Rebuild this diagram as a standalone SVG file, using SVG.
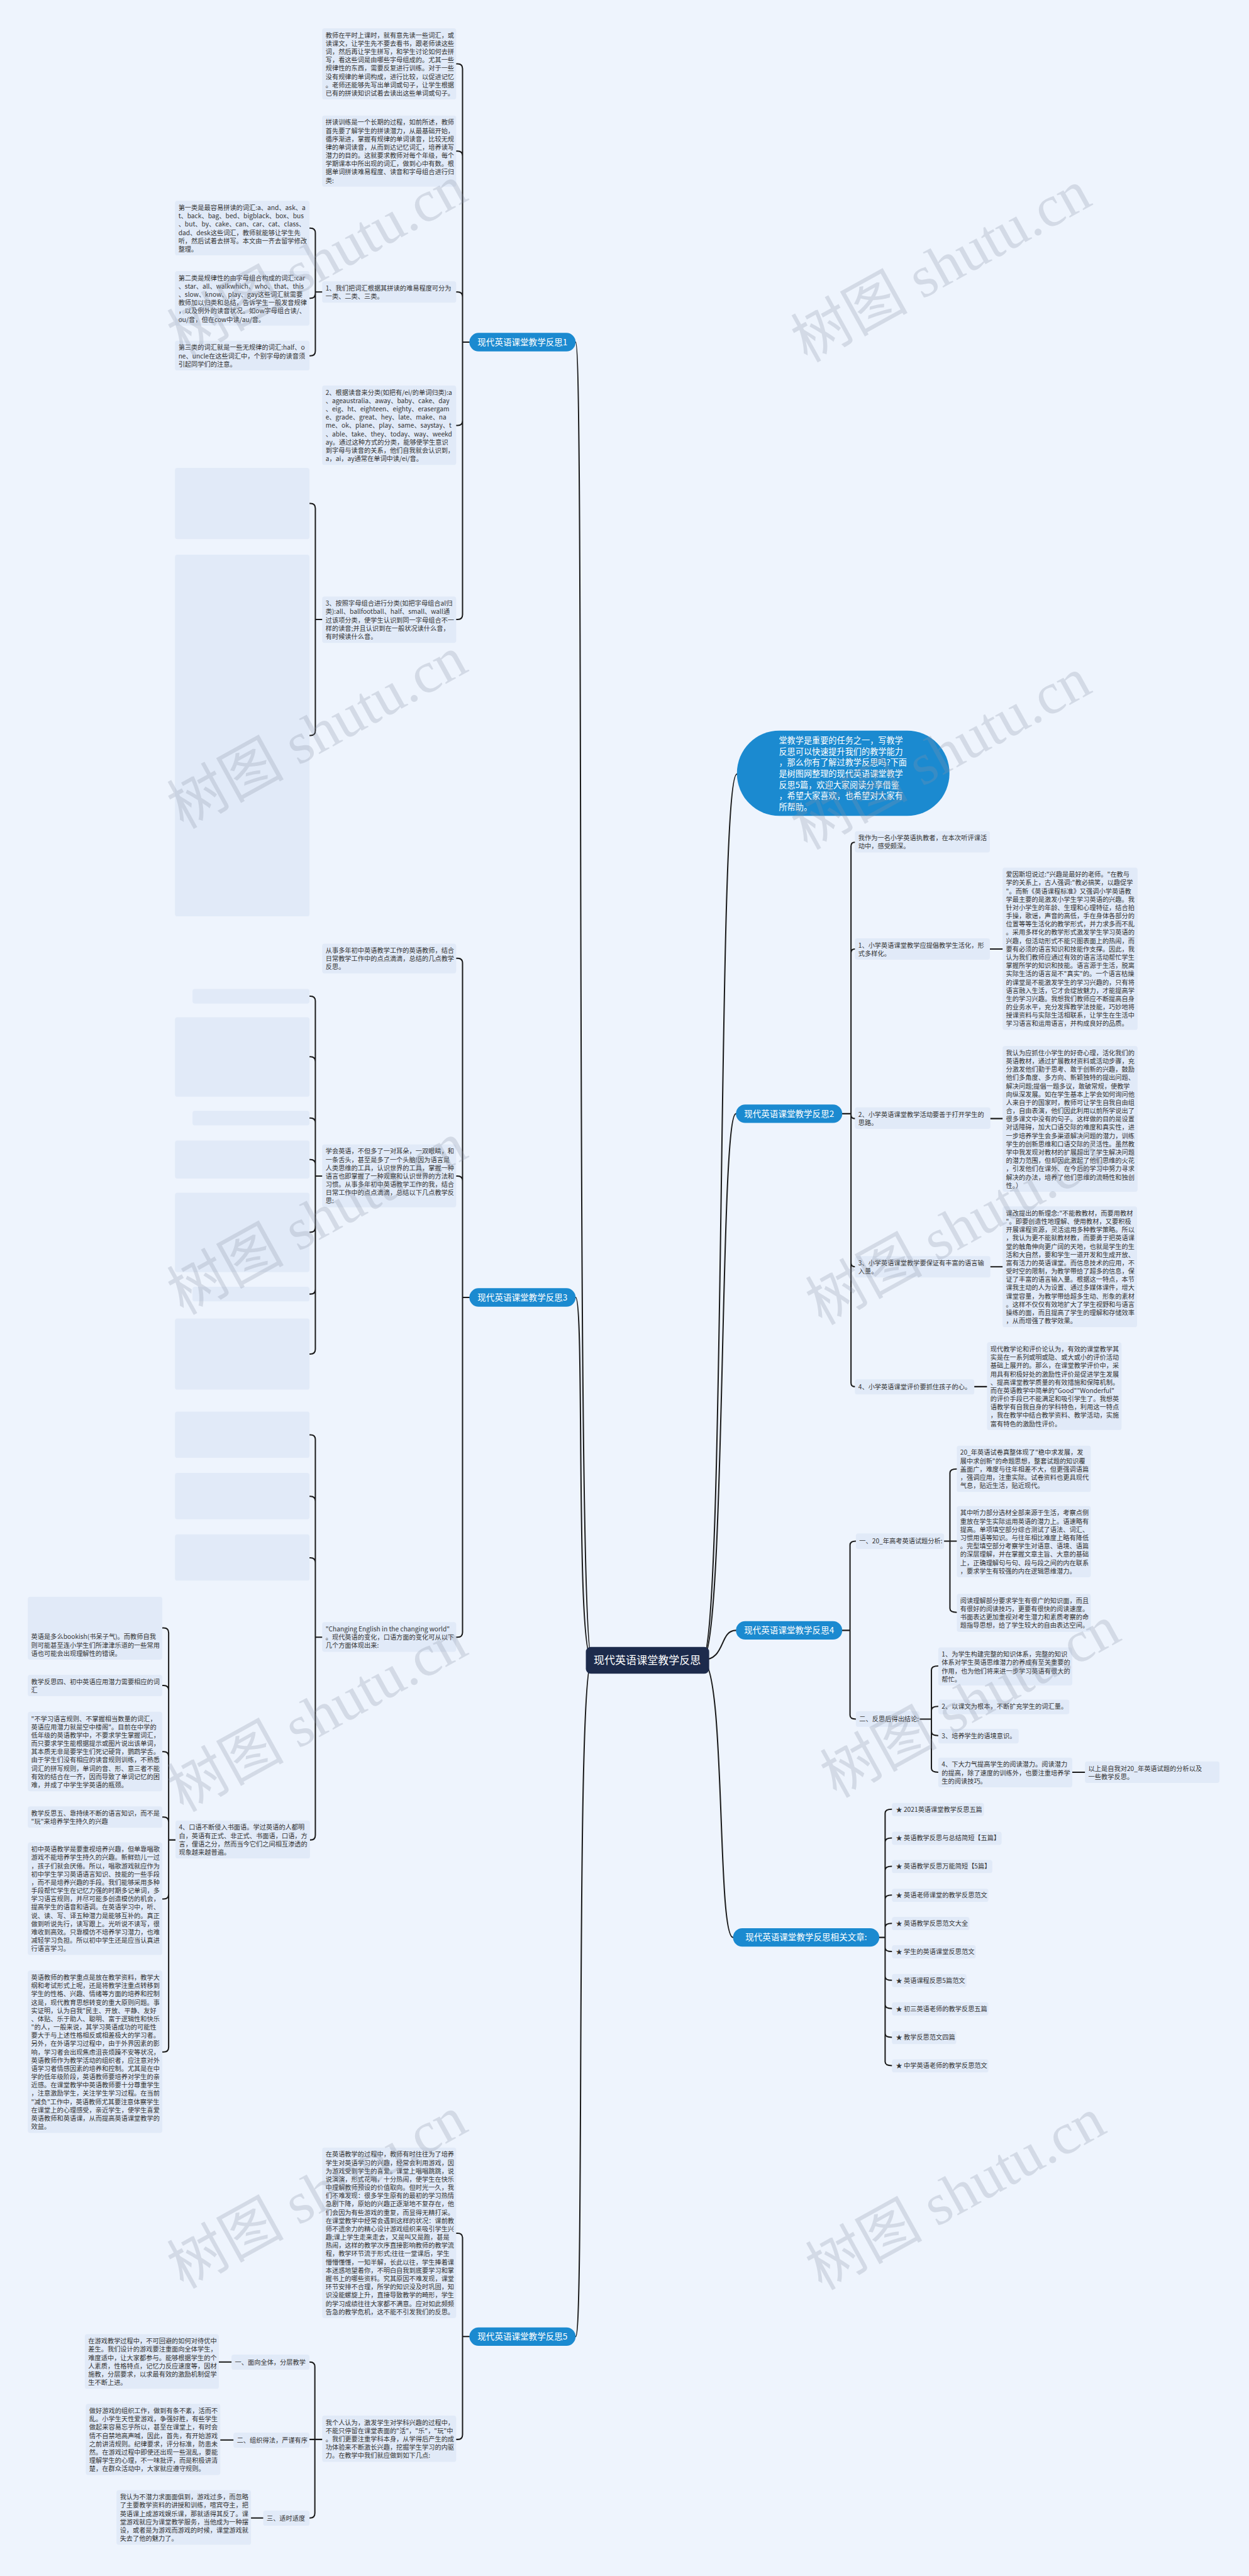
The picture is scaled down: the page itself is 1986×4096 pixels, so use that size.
<svg xmlns="http://www.w3.org/2000/svg" width="1986" height="4096" viewBox="0 0 1986 4096">
<style>
.bg{fill:#eef4fd}
.box{fill:#e1eaf8}
.t{font-family:"Noto Sans CJK SC","Noto Sans",sans-serif;font-size:13.2px;fill:#333}
.bn{fill:#1b8ad0}
.bt{font-family:"Noto Sans CJK SC",sans-serif;font-size:17.5px;fill:#fff;text-anchor:middle}
.it{font-family:"Noto Sans CJK SC",sans-serif;font-size:17px;fill:#fff}
.ct{font-family:"Noto Sans CJK SC",sans-serif;font-size:22px;fill:#fff;text-anchor:middle}
.ln{fill:none;stroke:#1a1a1a;stroke-width:2.6;stroke-linecap:round}
.wm{font-family:"Liberation Serif","Noto Sans CJK SC",serif;font-size:120px;fill:#8a93a6;opacity:0.26;text-anchor:middle}
</style>
<rect class="bg" width="1986" height="4096"/>
<g transform="scale(0.775)">
<g id="connectors">
<path class="ln" d="M1215,3406 C1180,3406 1200,702 1181,702"/>
<path class="ln" d="M1215,3406 C1180,3406 1200,2662 1181,2662"/>
<path class="ln" d="M1215,3406 C1180,3406 1200,4794 1181,4794"/>
<path class="ln" d="M1440,3406 C1490,3406 1470,1588 1512,1588"/>
<path class="ln" d="M1440,3406 C1490,3406 1475,2285 1510,2285"/>
<path class="ln" d="M1440,3406 C1490,3406 1475,3345 1510,3345"/>
<path class="ln" d="M1440,3406 C1490,3406 1470,3975 1504,3975"/>
<path class="ln" d="M963,702 H949 M949,702 V141 Q949,131 939,131 H936 M949,702 V320 Q949,310 939,310 H936 M949,702 V609 Q949,599 939,599 H936 M949,702 V863 Q949,873 939,873 H936 M949,702 V1261 Q949,1271 939,1271 H936"/>
<path class="ln" d="M661,599 H647 M647,599 V478 Q647,468 637,468 H635 M647,599 V602 Q647,612 637,612 H635 M647,599 V720 Q647,730 637,730 H635"/>
<path class="ln" d="M661,1271 H647 M647,1271 V1043 Q647,1033 637,1033 H635 M647,1271 V1499 Q647,1509 637,1509 H635"/>
<path class="ln" d="M963,2662 H949 M949,2662 V1976 Q949,1966 939,1966 H936 M949,2662 V2423 Q949,2413 939,2413 H936 M949,2662 V3349 Q949,3359 939,3359 H936"/>
<path class="ln" d="M661,2413 H647 M647,2413 V2054 Q647,2044 637,2044 H635 M647,2413 V2178 Q647,2168 637,2168 H635 M647,2413 V2304 Q647,2294 637,2294 H635 M647,2413 V2389 Q647,2379 637,2379 H635 M647,2413 V2518 Q647,2528 637,2528 H635 M647,2413 V2645 Q647,2655 637,2655 H635 M647,2413 V2768 Q647,2778 637,2778 H635"/>
<path class="ln" d="M661,3359 H647 M647,3359 V2954 Q647,2944 637,2944 H635 M647,3359 V3080 Q647,3070 637,3070 H635 M647,3359 V3206 Q647,3196 637,3196 H635 M647,3359 V3765 Q647,3775 637,3775 H636"/>
<path class="ln" d="M360,3775 H346 M346,3775 V3350 Q346,3340 336,3340 H333 M346,3775 V3468 Q346,3458 336,3458 H333 M346,3775 V3604 Q346,3594 336,3594 H333 M346,3775 V3738 Q346,3728 336,3728 H333 M346,3775 V3886 Q346,3896 336,3896 H333 M346,3775 V4200 Q346,4210 336,4210 H333"/>
<path class="ln" d="M963,4794 H949 M949,4794 V4592 Q949,4582 939,4582 H936 M949,4794 V4995 Q949,5005 939,5005 H936"/>
<path class="ln" d="M661,5005 H646 M646,5005 V4856 Q646,4846 636,4846 H635 M646,5005 H635 M646,5005 V5156 Q646,5166 636,5166 H635 M475,4846 H449 M479,5006 H452 M540,5166 H515"/>
<path class="ln" d="M1728,2285 H1746 M1746,2285 V1736 Q1746,1728 1754,1728 M1746,2285 V1955 Q1746,1947 1754,1947 M1746,2285 V2287 Q1746,2295 1754,2295 M1746,2285 V2591 Q1746,2599 1754,2599 M1746,2285 V2837 Q1746,2845 1754,2845 M2031,1947 H2057 M2032,2295 H2057 M2032,2599 H2057 M1999,2845 H2025"/>
<path class="ln" d="M1728,3345 H1744 M1744,3345 V3170 Q1744,3162 1756,3162 M1744,3345 V3519 Q1744,3527 1756,3527"/>
<path class="ln" d="M1937,3162 H1949 M1949,3162 V3022 Q1949,3014 1963,3014 M1949,3162 H1963 M1949,3162 V3300 Q1949,3308 1963,3308"/>
<path class="ln" d="M1887,3527 H1911 M1911,3527 V3426 Q1911,3418 1925,3418 M1911,3527 V3509 Q1911,3501 1925,3501 M1911,3527 V3553 Q1911,3561 1925,3561 M1911,3527 V3628 Q1911,3636 1925,3636 M2200,3636 H2226"/>
<path class="ln" d="M1804,3975 H1816 M1816,3975 V3720 Q1816,3712 1830,3712 M1816,3975 V3779 Q1816,3771 1830,3771 M1816,3975 V3837 Q1816,3829 1830,3829 M1816,3975 V3896 Q1816,3888 1830,3888 M1816,3975 V3954 Q1816,3946 1830,3946 M1816,3975 V3996 Q1816,4004 1830,4004 M1816,3975 V4055 Q1816,4063 1830,4063 M1816,3975 V4113 Q1816,4121 1830,4121 M1816,3975 V4172 Q1816,4180 1830,4180 M1816,3975 V4230 Q1816,4238 1830,4238"/>
</g>

<g id="center"><rect x="1202" y="3379" width="253" height="55" rx="10" fill="#1d2b4c"/><text class="ct" x="1328" y="3414">现代英语课堂教学反思</text></g>

<g id="intro"><rect class="bn" x="1512" y="1499" width="436" height="175" rx="87"/><text class="it" x="1598" y="1525"><tspan x="1598">堂教学是重要的任务之一，写教学</tspan><tspan x="1598" dy="22.8">反思可以快速提升我们的教学能力</tspan><tspan x="1598" dy="22.8">，那么你有了解过教学反思吗?下面</tspan><tspan x="1598" dy="22.8">是树图网整理的现代英语课堂教学</tspan><tspan x="1598" dy="22.8">反思5篇，欢迎大家阅读分享借鉴</tspan><tspan x="1598" dy="22.8">，希望大家喜欢，也希望对大家有</tspan><tspan x="1598" dy="22.8">所帮助。</tspan></text></g>

<g id="b1"><rect class="bn" x="963" y="683" width="218" height="38" rx="19"/><text class="bt" x="1072" y="708">现代英语课堂教学反思1</text></g>
<g id="b2"><rect class="bn" x="1510" y="2266" width="218" height="38" rx="19"/><text class="bt" x="1619" y="2291">现代英语课堂教学反思2</text></g>
<g id="b3"><rect class="bn" x="963" y="2643" width="218" height="38" rx="19"/><text class="bt" x="1072" y="2668">现代英语课堂教学反思3</text></g>
<g id="b4"><rect class="bn" x="1510" y="3326" width="218" height="38" rx="19"/><text class="bt" x="1619" y="3351">现代英语课堂教学反思4</text></g>
<g id="b5"><rect class="bn" x="963" y="4775" width="218" height="38" rx="19"/><text class="bt" x="1072" y="4800">现代英语课堂教学反思5</text></g>
<g id="rel"><rect class="bn" x="1504" y="3956" width="300" height="38" rx="19"/><text class="bt" x="1654" y="3981">现代英语课堂教学反思相关文章:</text></g>

<g id="b1a"><rect class="box" x="661" y="58" width="275" height="146" rx="5"/><text class="t" x="668" y="77"><tspan x="668">教师在平时上课时，就有意先读一些词汇，或</tspan><tspan x="668" dy="17">读课文，让学生先不要去看书，跟老师读这些</tspan><tspan x="668" dy="17">词，然后再让学生拼写，和学生讨论如何去拼</tspan><tspan x="668" dy="17">写，看这些词是由哪些字母组成的。尤其一些</tspan><tspan x="668" dy="17">规律性的东西，需要反复进行训练。对于一些</tspan><tspan x="668" dy="17">没有规律的单词构成，进行比较，以促进记忆</tspan><tspan x="668" dy="17">。老师还能够先写出单词或句子，让学生根据</tspan><tspan x="668" dy="17">已有的拼读知识试着去读出这些单词或句子。</tspan></text></g>
<g id="b1b"><rect class="box" x="661" y="237" width="275" height="146" rx="5"/><text class="t" x="668" y="256"><tspan x="668">拼读训练是一个长期的过程，如前所述，教师</tspan><tspan x="668" dy="17">首先要了解学生的拼读潜力，从最基础开始，</tspan><tspan x="668" dy="17">循序渐进，掌握有规律的单词读音，比较无规</tspan><tspan x="668" dy="17">律的单词读音，从而到达记忆词汇，培养读写</tspan><tspan x="668" dy="17">潜力的目的。这就要求教师对每个年级，每个</tspan><tspan x="668" dy="17">学期课本中所出现的词汇，做到心中有数。根</tspan><tspan x="668" dy="17">据单词拼读难易程度、读音和字母组合进行归</tspan><tspan x="668" dy="17">类:</tspan></text></g>
<g id="b1c"><rect class="box" x="661" y="577" width="275" height="44" rx="5"/><text class="t" x="668" y="596"><tspan x="668">1、我们把词汇根据其拼读的难易程度可分为</tspan><tspan x="668" dy="17">一类、二类、三类。</tspan></text></g>
<g id="b1d"><rect class="box" x="661" y="791" width="275" height="163" rx="5"/><text class="t" x="668" y="810"><tspan x="668">2、根据读音来分类(如把有/ei/的单词归类):a</tspan><tspan x="668" dy="17">、ageaustralia、away、baby、cake、day</tspan><tspan x="668" dy="17">、eig、ht、eighteen、eighty、erasergam</tspan><tspan x="668" dy="17">e、grade、great、hey、late、make、na</tspan><tspan x="668" dy="17">me、ok、plane、play、same、saystay、t</tspan><tspan x="668" dy="17">、able、take、they、today、way、weekd</tspan><tspan x="668" dy="17">ay。通过这种方式的分类，能够使学生意识</tspan><tspan x="668" dy="17">到字母与读音的关系，他们自我就会认识到，</tspan><tspan x="668" dy="17">a，ai，ay通常在单词中读/ei/音。</tspan></text></g>
<g id="b1e"><rect class="box" x="661" y="1224" width="275" height="95" rx="5"/><text class="t" x="668" y="1243"><tspan x="668">3、按照字母组合进行分类(如把字母组合al归</tspan><tspan x="668" dy="17">类):all、ballfootball、half、small、wall通</tspan><tspan x="668" dy="17">过该项分类，使学生认识到同一字母组合不一</tspan><tspan x="668" dy="17">样的读音;并且认识到在一般状况读什么音，</tspan><tspan x="668" dy="17">有时候读什么音。</tspan></text></g>
<g id="e1"><rect class="box" x="359" y="960" width="276" height="146" rx="5"/></g>
<g id="e2"><rect class="box" x="359" y="1138" width="276" height="742" rx="5"/></g>
<g id="c1"><rect class="box" x="359" y="412" width="276" height="112" rx="5"/><text class="t" x="366" y="431"><tspan x="366">第一类是最容易拼读的词汇:a、and、ask、a</tspan><tspan x="366" dy="17">t、back、bag、bed、bigblack、box、bus</tspan><tspan x="366" dy="17">、but、by、cake、can、car、cat、class、</tspan><tspan x="366" dy="17">dad、desk这些词汇，教师就能够让学生先</tspan><tspan x="366" dy="17">听，然后试着去拼写。本文由一齐去留学修改</tspan><tspan x="366" dy="17">整理。</tspan></text></g>
<g id="c2"><rect class="box" x="359" y="556" width="276" height="112" rx="5"/><text class="t" x="366" y="575"><tspan x="366">第二类是规律性的由字母组合构成的词汇:car</tspan><tspan x="366" dy="17">、star、all、walkwhich、who、that、this</tspan><tspan x="366" dy="17">、slow、know、play、gay这些词汇就需要</tspan><tspan x="366" dy="17">教师加以归类和总结，告诉学生一般发音规律</tspan><tspan x="366" dy="17">，以及例外的读音状况。如ow字母组合读/、</tspan><tspan x="366" dy="17">ou/音，但在cow中读/au/音。</tspan></text></g>
<g id="c3"><rect class="box" x="359" y="699" width="276" height="61" rx="5"/><text class="t" x="366" y="718"><tspan x="366">第三类的词汇就是一些无规律的词汇:half、o</tspan><tspan x="366" dy="17">ne、uncle在这些词汇中，个别字母的读音须</tspan><tspan x="366" dy="17">引起同学们的注意。</tspan></text></g>

<g id="b3a"><rect class="box" x="661" y="1936" width="275" height="61" rx="5"/><text class="t" x="668" y="1955"><tspan x="668">从事多年初中英语教学工作的英语教师，结合</tspan><tspan x="668" dy="17">日常教学工作中的点点滴滴，总结的几点教学</tspan><tspan x="668" dy="17">反思。</tspan></text></g>
<g id="b3b"><rect class="box" x="661" y="2348" width="275" height="129" rx="5"/><text class="t" x="668" y="2367"><tspan x="668">学会英语，不但多了一对耳朵，一双眼睛，和</tspan><tspan x="668" dy="17">一条舌头，甚至是多了一个头脑!因为语言是</tspan><tspan x="668" dy="17">人类思维的工具，认识世界的工具，掌握一种</tspan><tspan x="668" dy="17">语言也即掌握了一种观察和认识世界的方法和</tspan><tspan x="668" dy="17">习惯。从事多年初中英语教学工作的我，结合</tspan><tspan x="668" dy="17">日常工作中的点点滴滴，总结以下几点教学反</tspan><tspan x="668" dy="17">思:</tspan></text></g>
<g id="s1"><rect class="box" x="395" y="2029" width="240" height="30" rx="5"/></g>
<g id="s2"><rect class="box" x="359" y="2087" width="276" height="163" rx="5"/></g>
<g id="s3"><rect class="box" x="395" y="2279" width="240" height="30" rx="5"/></g>
<g id="s4"><rect class="box" x="359" y="2340" width="276" height="78" rx="5"/></g>
<g id="s5"><rect class="box" x="359" y="2447" width="276" height="163" rx="5"/></g>
<g id="s6"><rect class="box" x="395" y="2640" width="240" height="30" rx="5"/></g>
<g id="s7"><rect class="box" x="359" y="2705" width="276" height="146" rx="5"/></g>
<g id="b3c"><rect class="box" x="661" y="3328" width="275" height="61" rx="5"/><text class="t" x="668" y="3347"><tspan x="668">"Changing English in the changing world"</tspan><tspan x="668" dy="17">。现代英语的变化，口语方面的变化可从以下</tspan><tspan x="668" dy="17">几个方面体现出来:</tspan></text></g>
<g id="w1"><rect class="box" x="359" y="2896" width="276" height="95" rx="5"/></g>
<g id="w2"><rect class="box" x="359" y="3022" width="276" height="95" rx="5"/></g>
<g id="w3"><rect class="box" x="359" y="3148" width="276" height="95" rx="5"/></g>
<g id="k4"><rect class="box" x="360" y="3735" width="276" height="78" rx="5"/><text class="t" x="367" y="3754"><tspan x="367">4、口语不断侵入书面语。学过英语的人都明</tspan><tspan x="367" dy="17">白，英语有正式、非正式、书面语，口语，方</tspan><tspan x="367" dy="17">言，俚语之分，然而当今它们之间相互渗透的</tspan><tspan x="367" dy="17">现象越来越普遍。</tspan></text></g>
<g id="l0"><rect class="box" x="57" y="3276" width="276" height="129" rx="5"/><text class="t" x="64" y="3363"><tspan x="64">英语是多么bookish(书呆子气)。而教师自我</tspan><tspan x="64" dy="17">则可能甚至连小学生们所津津乐道的一些常用</tspan><tspan x="64" dy="17">语也可能会出现理解性的错误。</tspan></text></g>
<g id="l1"><rect class="box" x="57" y="3436" width="276" height="44" rx="5"/><text class="t" x="64" y="3455"><tspan x="64">教学反思四、初中英语应用潜力需要相应的词</tspan><tspan x="64" dy="17">汇</tspan></text></g>
<g id="l2"><rect class="box" x="57" y="3512" width="276" height="163" rx="5"/><text class="t" x="64" y="3531"><tspan x="64">"不学习语言规则、不掌握相当数量的词汇，</tspan><tspan x="64" dy="17">英语应用潜力就是空中楼阁"。目前在中学的</tspan><tspan x="64" dy="17">低年级的英语教学中，不要求学生掌握词汇，</tspan><tspan x="64" dy="17">而只要求学生能根据提示或图片说出该单词，</tspan><tspan x="64" dy="17">其本质无非是要学生们死记硬背，鹦鹉学舌。</tspan><tspan x="64" dy="17">由于学生们没有相应的读音规则训练，不熟悉</tspan><tspan x="64" dy="17">词汇的拼写规则，单词的音、形、意三者不能</tspan><tspan x="64" dy="17">有效的结合在一齐，因而导致了单词记忆的困</tspan><tspan x="64" dy="17">难，并成了中学生学英语的瓶颈。</tspan></text></g>
<g id="l3"><rect class="box" x="57" y="3706" width="276" height="44" rx="5"/><text class="t" x="64" y="3725"><tspan x="64">教学反思五、靠持续不断的语言知识，而不是</tspan><tspan x="64" dy="17">"玩"来培养学生持久的兴趣</tspan></text></g>
<g id="l4"><rect class="box" x="57" y="3780" width="276" height="231" rx="5"/><text class="t" x="64" y="3799"><tspan x="64">初中英语教学是要重视培养兴趣，但单靠唱歌</tspan><tspan x="64" dy="17">游戏不能培养学生持久的兴趣。新鲜劲儿一过</tspan><tspan x="64" dy="17">，孩子们就会厌倦。所以，唱歌游戏就应作为</tspan><tspan x="64" dy="17">初中学生学习英语语言知识、技能的一些手段</tspan><tspan x="64" dy="17">，而不是培养兴趣的手段。我们能够采用多种</tspan><tspan x="64" dy="17">手段帮忙学生在记忆力强的时期多记单词，多</tspan><tspan x="64" dy="17">学习语言规则，并尽可能多创造模仿的机会，</tspan><tspan x="64" dy="17">提高学生的语音和语调。在英语学习中，听、</tspan><tspan x="64" dy="17">说、读、写、译五种潜力是能够互补的。真正</tspan><tspan x="64" dy="17">做到听说先行，读写跟上。光听说不读写，很</tspan><tspan x="64" dy="17">难收到高效。只靠模仿不培养学习潜力，也难</tspan><tspan x="64" dy="17">减轻学习负担。所以初中学生还是应当认真进</tspan><tspan x="64" dy="17">行语言学习。</tspan></text></g>
<g id="l5"><rect class="box" x="57" y="4043" width="276" height="333" rx="5"/><text class="t" x="64" y="4062"><tspan x="64">英语教师的教学重点是放在教学资料，教学大</tspan><tspan x="64" dy="17">纲和考试形式上呢，还是将教学注重点转移到</tspan><tspan x="64" dy="17">学生的性格、兴趣、情绪等方面的培养和控制</tspan><tspan x="64" dy="17">这是，现代教育思想转变的重大原则问题。事</tspan><tspan x="64" dy="17">实证明，认为自我"民主、开放、平静、友好</tspan><tspan x="64" dy="17">、体贴、乐于助人、聪明、富于逻辑性和快乐</tspan><tspan x="64" dy="17">"的人，一般来说，其学习英语成功的可能性</tspan><tspan x="64" dy="17">要大于与上述性格相反或相差极大的学习者。</tspan><tspan x="64" dy="17">另外，在外语学习过程中，由于外界因素的影</tspan><tspan x="64" dy="17">响，学习者会出现焦虑沮丧烦躁不安等状况，</tspan><tspan x="64" dy="17">英语教师作为教学活动的组织者，应注意对外</tspan><tspan x="64" dy="17">语学习者情感因素的培养和控制。尤其是在中</tspan><tspan x="64" dy="17">学的低年级阶段，英语教师要培养对学生的亲</tspan><tspan x="64" dy="17">近感。在课堂教学中英语教师要十分尊重学生</tspan><tspan x="64" dy="17">，注意激励学生，关注学生学习过程。在当前</tspan><tspan x="64" dy="17">"减负"工作中，英语教师尤其要注意体察学生</tspan><tspan x="64" dy="17">在课堂上的心理感受，亲近学生，使学生喜爱</tspan><tspan x="64" dy="17">英语教师和英语课，从而提高英语课堂教学的</tspan><tspan x="64" dy="17">效益。</tspan></text></g>

<g id="b5a"><rect class="box" x="661" y="4406" width="275" height="350" rx="5"/><text class="t" x="668" y="4425"><tspan x="668">在英语教学的过程中，教师有时往往为了培养</tspan><tspan x="668" dy="17">学生对英语学习的兴趣，经常会利用游戏，因</tspan><tspan x="668" dy="17">为游戏受到学生的喜爱。课堂上唱唱跳跳，说</tspan><tspan x="668" dy="17">说演演，形式花哨，十分热闹，使学生在快乐</tspan><tspan x="668" dy="17">中理解教师预设的价值取向。但时光一久，我</tspan><tspan x="668" dy="17">们不难发现：很多学生原有的最初的学习热情</tspan><tspan x="668" dy="17">急剧下降，原始的兴趣正逐渐地不复存在，他</tspan><tspan x="668" dy="17">们会因为有些游戏的重复，而显得无精打采。</tspan><tspan x="668" dy="17">在课堂教学中经常会遇到这样的状况：课前教</tspan><tspan x="668" dy="17">师不遗余力的精心设计游戏组织来吸引学生兴</tspan><tspan x="668" dy="17">趣;课上学生走来走去，又是叫又是跑，甚是</tspan><tspan x="668" dy="17">热闹，这样的教学次序直接影响教师的教学流</tspan><tspan x="668" dy="17">程，教学环节流于形式;往往一堂课后，学生</tspan><tspan x="668" dy="17">懵懵懂懂，一知半解，长此以往，学生捧着课</tspan><tspan x="668" dy="17">本迷惑地望着你，不明白自我到底要学习和掌</tspan><tspan x="668" dy="17">握书上的哪些资料。究其原因不难发现，课堂</tspan><tspan x="668" dy="17">环节安排不合理，所学的知识没及时巩固，知</tspan><tspan x="668" dy="17">识没能螺旋上升，直接导致教学的畸形，学生</tspan><tspan x="668" dy="17">的学习成绩往往大家都不满意。应对如此频频</tspan><tspan x="668" dy="17">告急的教学危机，这不能不引发我们的反思。</tspan></text></g>
<g id="b5b"><rect class="box" x="661" y="4956" width="275" height="95" rx="5"/><text class="t" x="668" y="4975"><tspan x="668">我个人认为，激发学生对学科兴趣的过程中，</tspan><tspan x="668" dy="17">不能只停留在课堂表面的"活"，"乐"，"玩"中</tspan><tspan x="668" dy="17">。我们更要注重学科本身，从学得后产生的成</tspan><tspan x="668" dy="17">功体验来不断激长兴趣，挖掘学生学习的内驱</tspan><tspan x="668" dy="17">力。在教学中我们就应做到如下几点:</tspan></text></g>
<g id="g1"><rect class="box" x="475" y="4831" width="160" height="31" rx="5"/><text class="t" x="482" y="4851">一、面向全体，分层教学</text></g>
<g id="g2"><rect class="box" x="479" y="4991" width="156" height="31" rx="5"/><text class="t" x="486" y="5011">二、组织得法，严谨有序</text></g>
<g id="g3"><rect class="box" x="540" y="5151" width="95" height="31" rx="5"/><text class="t" x="547" y="5171">三、适时适度</text></g>
<g id="h1"><rect class="box" x="174" y="4789" width="275" height="112" rx="5"/><text class="t" x="181" y="4808"><tspan x="181">在游戏教学过程中，不可回避的如何对待优中</tspan><tspan x="181" dy="17">差生。我们设计的游戏要注重面向全体学生，</tspan><tspan x="181" dy="17">难度适中，让大家都参与。能够根据学生的个</tspan><tspan x="181" dy="17">人素质，性格特点，记忆力反应速度等，因材</tspan><tspan x="181" dy="17">施教，分层要求，以求最有效的激励机制促学</tspan><tspan x="181" dy="17">生不断上进。</tspan></text></g>
<g id="h2"><rect class="box" x="176" y="4932" width="276" height="146" rx="5"/><text class="t" x="183" y="4951"><tspan x="183">做好游戏的组织工作，做到有条不紊，活而不</tspan><tspan x="183" dy="17">乱。小学生天性爱游戏，争强好胜，有些学生</tspan><tspan x="183" dy="17">做起来容易忘乎所以，甚至在课堂上，有时会</tspan><tspan x="183" dy="17">情不自禁地高声喊，因此，首先，有开始游戏</tspan><tspan x="183" dy="17">之前讲清规则。纪律要求，评分标准，防患未</tspan><tspan x="183" dy="17">然。在游戏过程中即使还出现一些混乱，要能</tspan><tspan x="183" dy="17">理解学生的心理，不一味批评，而是积极讲清</tspan><tspan x="183" dy="17">楚，在群众活动中，大家就应遵守规则。</tspan></text></g>
<g id="h3"><rect class="box" x="239" y="5109" width="276" height="112" rx="5"/><text class="t" x="246" y="5128"><tspan x="246">我认为不潜力求面面俱到，游戏过多，而忽略</tspan><tspan x="246" dy="17">了主要教学资料的讲授和训练，喧宾夺主，把</tspan><tspan x="246" dy="17">英语课上成游戏娱乐课，那就适得其反了。课</tspan><tspan x="246" dy="17">堂游戏就应为课堂教学服务，当他成为一种摆</tspan><tspan x="246" dy="17">设，或者是为游戏而游戏的时候，课堂游戏就</tspan><tspan x="246" dy="17">失去了他的魅力了。</tspan></text></g>

<g id="r0"><rect class="box" x="1754" y="1705" width="277" height="44" rx="5"/><text class="t" x="1761" y="1724"><tspan x="1761">我作为一名小学英语执教者，在本次听评课活</tspan><tspan x="1761" dy="17">动中，感受颇深。</tspan></text></g>
<g id="r1"><rect class="box" x="1754" y="1925" width="277" height="44" rx="5"/><text class="t" x="1761" y="1944"><tspan x="1761">1、小学英语课堂教学应提倡教学生活化，形</tspan><tspan x="1761" dy="17">式多样化。</tspan></text></g>
<g id="r1c"><rect class="box" x="2057" y="1780" width="277" height="333" rx="5"/><text class="t" x="2064" y="1799"><tspan x="2064">爱因斯坦说过:"兴趣是最好的老师。"在教与</tspan><tspan x="2064" dy="17">学的关系上，古人强调:"教必搞笑，以趣促学</tspan><tspan x="2064" dy="17">"。而新《英语课程标准》又强调小学英语教</tspan><tspan x="2064" dy="17">学最主要的是激发小学生学习英语的兴趣。我</tspan><tspan x="2064" dy="17">针对小学生的年龄、生理和心理特征，结合拍</tspan><tspan x="2064" dy="17">手操，歌谣，声音的高低，手在身体各部分的</tspan><tspan x="2064" dy="17">位置等等生活化的教学形式，并力求多而不乱</tspan><tspan x="2064" dy="17">。采用多样化的教学形式激发学生学习英语的</tspan><tspan x="2064" dy="17">兴趣，但活动形式不能只图表面上的热闹，而</tspan><tspan x="2064" dy="17">要有必须的语言知识和技能作支撑。因此，我</tspan><tspan x="2064" dy="17">认为我们教师应通过有效的语言活动帮忙学生</tspan><tspan x="2064" dy="17">掌握所学的知识和技能。语言源于生活，脱离</tspan><tspan x="2064" dy="17">实际生活的语言是不"真实"的。一个语言枯燥</tspan><tspan x="2064" dy="17">的课堂是不能激发学生的学习兴趣的，只有将</tspan><tspan x="2064" dy="17">语言融入生活，它才会绽放魅力，才能提高学</tspan><tspan x="2064" dy="17">生的学习兴趣。我想我们教师应不断提高自身</tspan><tspan x="2064" dy="17">的业务水平，充分发挥教学法技能，巧妙地将</tspan><tspan x="2064" dy="17">授课资料与实际生活相联系，让学生在生活中</tspan><tspan x="2064" dy="17">学习语言和运用语言，并构成良好的品质。</tspan></text></g>
<g id="r2"><rect class="box" x="1754" y="2272" width="278" height="44" rx="5"/><text class="t" x="1761" y="2291"><tspan x="1761">2、小学英语课堂教学活动要善于打开学生的</tspan><tspan x="1761" dy="17">思路。</tspan></text></g>
<g id="r2c"><rect class="box" x="2057" y="2146" width="277" height="299" rx="5"/><text class="t" x="2064" y="2165"><tspan x="2064">我认为应抓住小学生的好奇心理，活化我们的</tspan><tspan x="2064" dy="17">英语教材，通过扩展教材资料或活动步骤，充</tspan><tspan x="2064" dy="17">分激发他们勤于思考、敢于创新的兴趣，鼓励</tspan><tspan x="2064" dy="17">他们多角度、多方向、新颖独特的提出问题、</tspan><tspan x="2064" dy="17">解决问题;提倡一题多议，敢破常规，使教学</tspan><tspan x="2064" dy="17">向纵深发展。如在学生基本上学会如何询问他</tspan><tspan x="2064" dy="17">人来自于的国家时，教师可让学生自我自由组</tspan><tspan x="2064" dy="17">合，自由表演，他们因此利用以前所学说出了</tspan><tspan x="2064" dy="17">很多课文中没有的句子。这样做的目的是设置</tspan><tspan x="2064" dy="17">对话障碍，加大口语交际的难度和真实性，进</tspan><tspan x="2064" dy="17">一步培养学生会多渠道解决问题的潜力，训练</tspan><tspan x="2064" dy="17">学生的创新思维和口语交际的灵活性。虽然教</tspan><tspan x="2064" dy="17">学中我发现对教材的扩展超出了学生解决问题</tspan><tspan x="2064" dy="17">的潜力范围，但却因此激起了他们思维的火花</tspan><tspan x="2064" dy="17">，引发他们在课外、在今后的学习中努力寻求</tspan><tspan x="2064" dy="17">解决的办法，培养了他们思维的流畅性和独创</tspan><tspan x="2064" dy="17">性。）</tspan></text></g>
<g id="r3"><rect class="box" x="1754" y="2577" width="278" height="44" rx="5"/><text class="t" x="1761" y="2596"><tspan x="1761">3、小学英语课堂教学要保证有丰富的语言输</tspan><tspan x="1761" dy="17">入量。</tspan></text></g>
<g id="r3c"><rect class="box" x="2057" y="2475" width="276" height="248" rx="5"/><text class="t" x="2064" y="2494"><tspan x="2064">课改提出的新理念:"不能教教材，而要用教材</tspan><tspan x="2064" dy="17">"。即要创造性地理解、使用教材，又要积极</tspan><tspan x="2064" dy="17">开展课程资源，灵活运用多种教学策略。所以</tspan><tspan x="2064" dy="17">，我认为更不能就教材教，而要勇于把英语课</tspan><tspan x="2064" dy="17">堂的触角伸向更广阔的天地，也就是学生的生</tspan><tspan x="2064" dy="17">活和大自然，要和学生一道开发和生成开放、</tspan><tspan x="2064" dy="17">富有活力的英语课堂。而信息技术的应用，不</tspan><tspan x="2064" dy="17">受时空的限制，为教学带给了超多的信息，保</tspan><tspan x="2064" dy="17">证了丰富的语言输入量。根据这一特点，本节</tspan><tspan x="2064" dy="17">课我主动的人为设置、通过多媒体课件，增大</tspan><tspan x="2064" dy="17">课堂容量，为教学带给超多生动、形象的素材</tspan><tspan x="2064" dy="17">。这样不仅仅有效地扩大了学生视野和与语言</tspan><tspan x="2064" dy="17">操练的面，而且提高了学生的理解和存储效率</tspan><tspan x="2064" dy="17">，从而增强了教学效果。</tspan></text></g>
<g id="r4"><rect class="box" x="1754" y="2830" width="245" height="31" rx="5"/><text class="t" x="1761" y="2850">4、小学英语课堂评价要抓住孩子的心。</text></g>
<g id="r4c"><rect class="box" x="2025" y="2754" width="276" height="180" rx="5"/><text class="t" x="2032" y="2773"><tspan x="2032">现代教学论和评价论认为，有效的课堂教学其</tspan><tspan x="2032" dy="17">实是在一系列或明或隐、或大或小的评价活动</tspan><tspan x="2032" dy="17">基础上展开的。那么，在课堂教学评价中，采</tspan><tspan x="2032" dy="17">用具有积极好处的激励性评价是促进学生发展</tspan><tspan x="2032" dy="17">、提高课堂教学质量的有效措施和保障机制。</tspan><tspan x="2032" dy="17">而在英语教学中简单的"Good""Wonderful"</tspan><tspan x="2032" dy="17">的评价手段已不能满足和吸引学生了。我想英</tspan><tspan x="2032" dy="17">语教学有自我自身的学科特色，利用这一特点</tspan><tspan x="2032" dy="17">，我在教学中结合教学资料、教学活动，实施</tspan><tspan x="2032" dy="17">富有特色的激励性评价。</tspan></text></g>

<g id="f1"><rect class="box" x="1756" y="3146" width="181" height="32" rx="5"/><text class="t" x="1763" y="3167">一、20_年高考英语试题分析:</text></g>
<g id="f1a"><rect class="box" x="1963" y="2966" width="275" height="95" rx="5"/><text class="t" x="1970" y="2985"><tspan x="1970">20_年英语试卷真整体现了"稳中求发展，发</tspan><tspan x="1970" dy="17">展中求创新"的命题思想，整套试题的知识覆</tspan><tspan x="1970" dy="17">盖面广，难度与往年相差不大，但更强调语篇</tspan><tspan x="1970" dy="17">，强调应用，注重实际。试卷资料也更具现代</tspan><tspan x="1970" dy="17">气息，贴近生活，贴近现代。</tspan></text></g>
<g id="f1b"><rect class="box" x="1963" y="3090" width="275" height="146" rx="5"/><text class="t" x="1970" y="3109"><tspan x="1970">其中听力部分选材全部来源于生活，考察点侧</tspan><tspan x="1970" dy="17">重放在学生实际运用英语的潜力上。语速略有</tspan><tspan x="1970" dy="17">提高。单项填空部分综合测试了语法、词汇、</tspan><tspan x="1970" dy="17">习惯用语等知识。与往年相比难度上略有降低</tspan><tspan x="1970" dy="17">。完型填空部分考察学生对语意、语境、语篇</tspan><tspan x="1970" dy="17">的深层理解，并在掌握文章主旨、大意的基础</tspan><tspan x="1970" dy="17">上，正确理解句与句、段与段之间的内在联系</tspan><tspan x="1970" dy="17">，要求学生有较强的内在逻辑思维潜力。</tspan></text></g>
<g id="f1c"><rect class="box" x="1963" y="3270" width="275" height="78" rx="5"/><text class="t" x="1970" y="3289"><tspan x="1970">阅读理解部分要求学生有很广的知识面，而且</tspan><tspan x="1970" dy="17">有很好的阅读技巧，更要有很快的阅读速度。</tspan><tspan x="1970" dy="17">书面表达更加重视对考生潜力和素质考察的命</tspan><tspan x="1970" dy="17">题指导思想，给了学生较大的自由表达空间。</tspan></text></g>
<g id="f2"><rect class="box" x="1756" y="3511" width="131" height="32" rx="5"/><text class="t" x="1763" y="3532">二、反思后得出结论:</text></g>
<g id="f2a"><rect class="box" x="1925" y="3380" width="275" height="78" rx="5"/><text class="t" x="1932" y="3399"><tspan x="1932">1、为学生构建完整的知识体系，完整的知识</tspan><tspan x="1932" dy="17">体系对学生英语思维潜力的养成有至关重要的</tspan><tspan x="1932" dy="17">作用，也为他们将来进一步学习英语有很大的</tspan><tspan x="1932" dy="17">帮忙。</tspan></text></g>
<g id="f2b"><rect class="box" x="1925" y="3487" width="269" height="30" rx="5"/><text class="t" x="1932" y="3506">2、以课文为根本，不断扩充学生的词汇量。</text></g>
<g id="f2c"><rect class="box" x="1925" y="3547" width="165" height="30" rx="5"/><text class="t" x="1932" y="3566">3、培养学生的语境意识。</text></g>
<g id="f2d"><rect class="box" x="1925" y="3606" width="275" height="61" rx="5"/><text class="t" x="1932" y="3625"><tspan x="1932">4、下大力气提高学生的阅读潜力。阅读潜力</tspan><tspan x="1932" dy="17">的提高，除了速度的训练外，也要注重培养学</tspan><tspan x="1932" dy="17">生的阅读技巧。</tspan></text></g>
<g id="f2e"><rect class="box" x="2226" y="3614" width="276" height="44" rx="5"/><text class="t" x="2233" y="3633"><tspan x="2233">以上是自我对20_年英语试题的分析以及</tspan><tspan x="2233" dy="17">一些教学反思。</tspan></text></g>

<g id="rel-items">
<g id="a1"><rect class="box" x="1830" y="3699" width="189" height="27" rx="5"/><text class="t" x="1838" y="3717">★ 2021英语课堂教学反思五篇</text></g>
<g id="a2"><rect class="box" x="1830" y="3758" width="225" height="27" rx="5"/><text class="t" x="1838" y="3776">★ 英语教学反思与总结简短【五篇】</text></g>
<g id="a3"><rect class="box" x="1830" y="3816" width="206" height="27" rx="5"/><text class="t" x="1838" y="3834">★ 英语教学反思万能简短【5篇】</text></g>
<g id="a4"><rect class="box" x="1830" y="3875" width="198" height="27" rx="5"/><text class="t" x="1838" y="3893">★ 英语老师课堂的教学反思范文</text></g>
<g id="a5"><rect class="box" x="1830" y="3933" width="159" height="27" rx="5"/><text class="t" x="1838" y="3951">★ 英语教学反思范文大全</text></g>
<g id="a6"><rect class="box" x="1830" y="3991" width="172" height="27" rx="5"/><text class="t" x="1838" y="4009">★ 学生的英语课堂反思范文</text></g>
<g id="a7"><rect class="box" x="1830" y="4050" width="153" height="27" rx="5"/><text class="t" x="1838" y="4068">★ 英语课程反思5篇范文</text></g>
<g id="a8"><rect class="box" x="1830" y="4108" width="198" height="27" rx="5"/><text class="t" x="1838" y="4126">★ 初三英语老师的教学反思五篇</text></g>
<g id="a9"><rect class="box" x="1830" y="4167" width="132" height="27" rx="5"/><text class="t" x="1838" y="4185">★ 教学反思范文四篇</text></g>
<g id="a10"><rect class="box" x="1830" y="4225" width="198" height="27" rx="5"/><text class="t" x="1838" y="4243">★ 中学英语老师的教学反思范文</text></g>
</g>

<g id="watermark">
<text class="wm" transform="translate(650,535) rotate(-29)" dy="0.35em">树图 shutu.cn</text>
<text class="wm" transform="translate(650,1502) rotate(-29)" dy="0.35em">树图 shutu.cn</text>
<text class="wm" transform="translate(650,2499) rotate(-29)" dy="0.35em">树图 shutu.cn</text>
<text class="wm" transform="translate(650,3519) rotate(-29)" dy="0.35em">树图 shutu.cn</text>
<text class="wm" transform="translate(650,4497) rotate(-29)" dy="0.35em">树图 shutu.cn</text>
<text class="wm" transform="translate(1930,545) rotate(-29)" dy="0.35em">树图 shutu.cn</text>
<text class="wm" transform="translate(1930,1545) rotate(-29)" dy="0.35em">树图 shutu.cn</text>
<text class="wm" transform="translate(1960,2520) rotate(-29)" dy="0.35em">树图 shutu.cn</text>
<text class="wm" transform="translate(1990,3490) rotate(-29)" dy="0.35em">树图 shutu.cn</text>
<text class="wm" transform="translate(1960,4500) rotate(-29)" dy="0.35em">树图 shutu.cn</text>
</g>
</g>
</svg>
